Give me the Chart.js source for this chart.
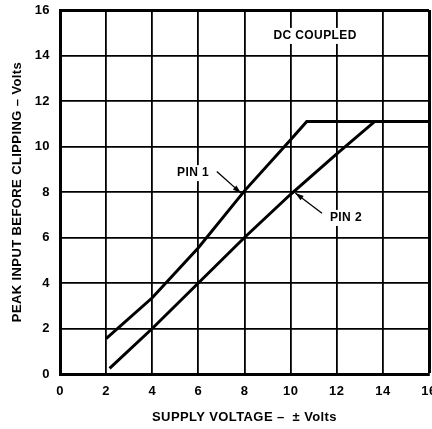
<!DOCTYPE html>
<html lang="en">
<head>
    <meta charset="UTF-8" />
    <title>Peak Input Before Clipping</title>
    <script src="https://cdn.jsdelivr.net/npm/chart.js"></script>
    <style>
        * { box-sizing: border-box; margin: 0; padding: 0; }
        body { background: #fff; }
        #wrap { width: 432px; height: 429px; position: relative; }
    </style>
</head>
<body>
    <div id="wrap"><canvas id="clipChart"></canvas></div>

    <script>
        // values (supply voltage, peak input)
        const pin1X = [2, 4, 6, 8, 10, 10.7, 16];
        const pin1Y = [1.55, 3.35, 5.55, 8.05, 10.3, 11.1, 11.1];
        const pin2X = [2.15, 4, 6, 8, 10, 12, 13.65, 16];
        const pin2Y = [0.25, 2.0, 4.0, 6.0, 7.9, 9.68, 11.1, 11.1];

        const xTicks = [0, 2, 4, 6, 8, 10, 12, 14, 16];
        const yTicks = [0, 2, 4, 6, 8, 10, 12, 14, 16];

        // annotations in data units: [text, x, y]
        const labels = [
            ['DC COUPLED', 11.06, 14.86],
            ['PIN 1', 5.77, 8.83],
            ['PIN 2', 12.4, 6.86]
        ];
        // arrows: [fromX, fromY, toX, toY]
        const arrows = [
            [6.8, 8.9, 7.85, 7.95],
            [11.36, 7.07, 10.2, 7.96]
        ];

        const toPoints = (xs, ys) => xs.map((x, i) => ({ x: x, y: ys[i] }));

        const FAMILY = '"Liberation Sans", Arial, sans-serif';

        const notesPlugin = {
            id: 'notes',
            beforeDraw(chart) {
                // the scanned lettering is spaced a bit wider than the font
                chart.ctx.letterSpacing = '0.4px';
            },
            afterDatasetsDraw(chart) {
                const { ctx, scales: { x, y } } = chart;
                ctx.save();
                ctx.fillStyle = '#000';
                ctx.strokeStyle = '#000';
                ctx.font = 'bold 12px ' + FAMILY;
                ctx.textAlign = 'center';
                ctx.textBaseline = 'middle';
                labels.forEach(l => {
                    const px = x.getPixelForValue(l[1]);
                    const py = y.getPixelForValue(l[2]);
                    ctx.fillStyle = '#fff';
                    const w = ctx.measureText(l[0]).width;
                    ctx.fillRect(px - w / 2 - 3, py - 8, w + 6, 16);
                    ctx.fillStyle = '#000';
                    ctx.fillText(l[0], px, py);
                });
                arrows.forEach(a => {
                    const x1 = x.getPixelForValue(a[0]), y1 = y.getPixelForValue(a[1]);
                    const x2 = x.getPixelForValue(a[2]), y2 = y.getPixelForValue(a[3]);
                    const ang = Math.atan2(y2 - y1, x2 - x1);
                    ctx.lineWidth = 1.3;
                    ctx.beginPath();
                    ctx.moveTo(x1, y1);
                    ctx.lineTo(x2, y2);
                    ctx.stroke();
                    ctx.beginPath();
                    ctx.moveTo(x2, y2);
                    ctx.lineTo(x2 - 9 * Math.cos(ang - 0.3), y2 - 9 * Math.sin(ang - 0.3));
                    ctx.lineTo(x2 - 9 * Math.cos(ang + 0.3), y2 - 9 * Math.sin(ang + 0.3));
                    ctx.closePath();
                    ctx.fill();
                });
                ctx.restore();
            }
        };

        const tickFont = { family: FAMILY, size: 13, weight: 'bold' };
        const gridWidth = c => (c.tick && c.tick.value === 16 ? 3 : 1.8);

        new Chart(document.getElementById('clipChart'), {
            type: 'line',
            data: {
                datasets: [
                    { label: 'PIN 1', data: toPoints(pin1X, pin1Y) },
                    { label: 'PIN 2', data: toPoints(pin2X, pin2Y) }
                ]
            },
            options: {
                responsive: true,
                maintainAspectRatio: false,
                animation: false,
                layout: { padding: { top: 10, right: 3, left: 0, bottom: 0 } },
                elements: {
                    line: { borderColor: '#000', borderWidth: 3, tension: 0 },
                    point: { radius: 0 }
                },
                plugins: { legend: { display: false }, tooltip: { enabled: false } },
                scales: {
                    x: {
                        type: 'linear',
                        min: 0, max: 16,
                        afterBuildTicks: s => { s.ticks = xTicks.map(v => ({ value: v })); },
                        afterFit: s => { s.height = 55; s.paddingLeft = 0; s.paddingRight = 0; },
                        grid: { color: '#000', lineWidth: gridWidth, drawTicks: false },
                        border: { display: true, color: '#000', width: 3 },
                        ticks: { color: '#000', font: tickFont, padding: 10, maxRotation: 0 },
                        title: {
                            display: true,
                            text: 'SUPPLY VOLTAGE –  ± Volts',
                            color: '#000',
                            font: tickFont,
                            padding: { top: 0, bottom: 4 }
                        }
                    },
                    y: {
                        min: 0, max: 16,
                        afterBuildTicks: s => { s.ticks = yTicks.map(v => ({ value: v })); },
                        afterFit: s => { s.width = 60; s.paddingTop = 0; s.paddingBottom = 0; },
                        grid: { color: '#000', lineWidth: gridWidth, drawTicks: false },
                        border: { display: true, color: '#000', width: 3 },
                        ticks: { color: '#000', font: tickFont, padding: 10 },
                        title: {
                            display: true,
                            text: 'PEAK INPUT BEFORE CLIPPING – Volts',
                            color: '#000',
                            font: tickFont,
                            padding: { top: 10, bottom: 0 }
                        }
                    }
                }
            },
            plugins: [notesPlugin]
        });
    </script>
</body>
</html>
